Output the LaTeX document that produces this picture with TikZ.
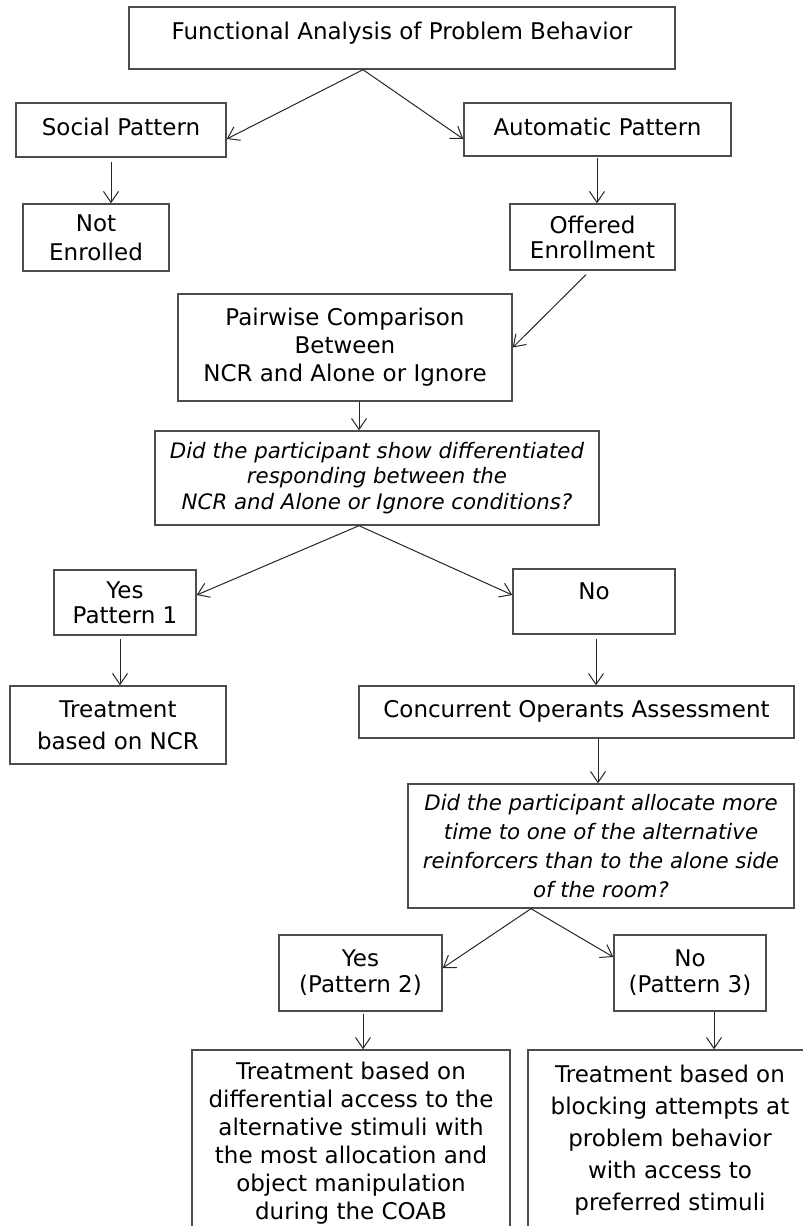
\documentclass[tikz,border=0pt]{standalone}
\usepackage{fontspec}
\setmainfont{DejaVu Sans}[ItalicFont={* Oblique}]
\usetikzlibrary{arrows.meta}
\begin{document}
\begin{tikzpicture}[x=1pt,y=1pt,
  box/.style={draw=black!70, line width=1.4pt, rectangle, inner sep=0pt, align=center,
              font=\fontsize{23}{28}\selectfont},
  qbox/.style={box, font=\fontsize{21.3}{26}\selectfont\itshape},
  arr/.style={draw=black!85, line width=1pt, -{Straight Barb[length=11pt,width=15pt]}}
]
\useasboundingbox (0,0) rectangle (803,-1226);
\clip (0,0) rectangle (803,-1226);

\node[box, minimum width=546pt, text height=32.4pt, text depth=29.6pt] (top) at (402,-38)
  {Functional Analysis of Problem Behavior};
\node[box, minimum width=210pt, text height=32.4pt, text depth=21.6pt] (social) at (121,-130)
  {Social Pattern};
\node[box, minimum width=267pt, text height=32.4pt, text depth=20.6pt] (auto) at (597.5,-129.5)
  {Automatic Pattern};
\node[box, minimum width=146pt, minimum height=67pt, font=\fontsize{23}{29}\selectfont] (noten) at (96,-237.5)
  {Not\\Enrolled};
\node[box, minimum width=165pt, minimum height=66pt, font=\fontsize{23}{25}\selectfont] (offered) at (592.5,-237)
  {Offered\\Enrollment};
\node[box, minimum width=334pt, minimum height=107pt] (pairwise) at (345,-347.5)
  {Pairwise Comparison\\Between\\NCR and Alone or Ignore};
\node[qbox, minimum width=444pt, minimum height=94pt, font=\fontsize{21.3}{25.5}\selectfont\itshape] (q1) at (377,-478)
  {Did the participant show differentiated\\responding between the\\NCR and Alone or Ignore conditions?};
\node[box, minimum width=142pt, minimum height=65pt, font=\fontsize{23}{25}\selectfont] (yes1) at (125,-602.5)
  {Yes\\Pattern 1};
\node[box, minimum width=162pt, text height=30.4pt, text depth=34.6pt] (no1) at (594,-601.5)
  {No};
\node[box, minimum width=216pt, minimum height=78pt, font=\fontsize{23}{32}\selectfont] (treat1) at (118,-725)
  {Treatment\\based on NCR};
\node[box, minimum width=435pt, text height=31.4pt, text depth=20.6pt] (coa) at (576.5,-712)
  {Concurrent Operants Assessment};
\node[qbox, minimum width=386pt, minimum height=124pt, font=\fontsize{21.3}{29.3}\selectfont\itshape] (q2) at (601,-846)
  {Did the participant allocate more\\time to one of the alternative\\reinforcers than to the alone side\\of the room?};
\node[box, minimum width=163pt, minimum height=76pt, font=\fontsize{23}{26}\selectfont] (yes2) at (360.5,-973)
  {Yes\\(Pattern 2)};
\node[box, minimum width=152pt, minimum height=76pt, font=\fontsize{23}{26}\selectfont] (no3) at (690,-973)
  {No\\(Pattern 3)};
\node[box, minimum width=318pt, minimum height=186pt] (treat2) at (351,-1143)
  {Treatment based on\\differential access to the\\alternative stimuli with\\the most allocation and\\object manipulation\\during the COAB};
\node[box, minimum width=284pt, minimum height=207pt, font=\fontsize{23}{32}\selectfont] (treat3) at (670,-1153.5)
  {Treatment based on\\blocking attempts at\\problem behavior\\with access to\\preferred stimuli\\\mbox{}};

\draw[arr] ([xshift=-39pt]top.south) -- ([yshift=-9pt]social.east);
\draw[arr] ([xshift=-39pt]top.south) -- ([yshift=-9.5pt]auto.west);
\draw[arr] ([xshift=-10pt,yshift=-4pt]social.south) -- ([xshift=15pt]noten.north);
\draw[arr] ([xshift=-0.5pt,yshift=-1pt]auto.south) -- ([xshift=4.5pt]offered.north);
\draw[arr] ([xshift=-6.5pt,yshift=-4pt]offered.south) -- (pairwise.east);
\draw[arr] ([xshift=14pt]pairwise.south) -- ([xshift=-18pt]q1.north);
\draw[arr] ([xshift=-18pt]q1.south) -- ([yshift=7.5pt]yes1.east);
\draw[arr] ([xshift=-18pt]q1.south) -- ([yshift=6.5pt]no1.west);
\draw[arr] ([xshift=-5pt,yshift=-3pt]yes1.south) -- ([xshift=2pt]treat1.north);
\draw[arr] ([xshift=2pt,yshift=-4pt]no1.south) -- ([xshift=19.5pt]coa.north);
\draw[arr] ([xshift=21.5pt]coa.south) -- ([xshift=-3pt]q2.north);
\draw[arr] ([xshift=-70pt]q2.south) -- ([yshift=5pt]yes2.east);
\draw[arr] ([xshift=-70pt]q2.south) -- ([yshift=16pt]no3.west);
\draw[arr] ([xshift=2.5pt,yshift=-2pt]yes2.south) -- ([xshift=12pt]treat2.north);
\draw[arr] ([xshift=24pt]no3.south) -- ([xshift=44pt]treat3.north);
\end{tikzpicture}
\end{document}
